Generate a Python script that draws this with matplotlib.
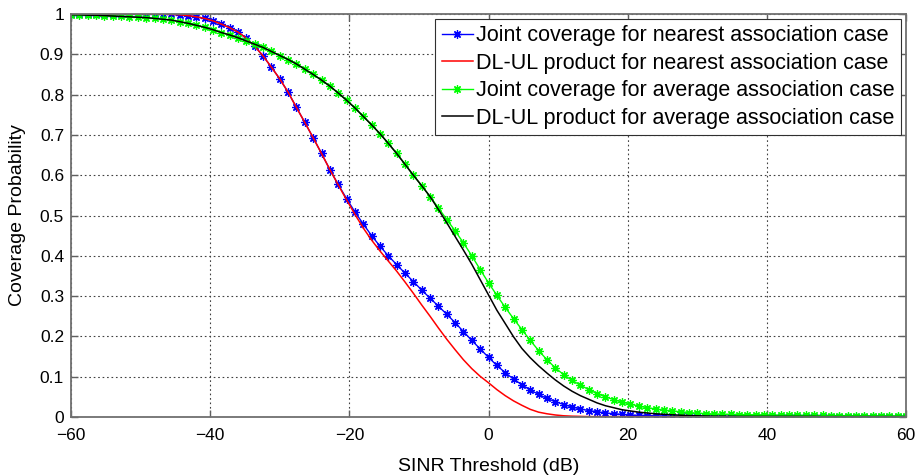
import numpy as np
import matplotlib
matplotlib.use("Agg")
import matplotlib.pyplot as plt

plt.rcParams['font.family'] = ['Liberation Sans', 'DejaVu Sans']

# SINR threshold grid (dB), one sample per marker
snr_db = np.linspace(-60, 60, 101)

joint_nearest = [
    1.000, 1.000, 1.000, 1.000, 1.000, 1.000, 1.000, 1.000, 1.000, 1.000,
    1.000, 0.9995, 0.999, 0.998, 0.996, 0.993, 0.989, 0.983, 0.975, 0.966,
    0.955, 0.940, 0.920, 0.896, 0.868, 0.839, 0.806, 0.768, 0.731, 0.693,
    0.654, 0.614, 0.577, 0.542, 0.509, 0.479, 0.450, 0.424, 0.400, 0.378,
    0.357, 0.336, 0.315, 0.295, 0.275, 0.255, 0.234, 0.212, 0.190, 0.169,
    0.148, 0.128, 0.110, 0.094, 0.080, 0.067, 0.056, 0.046, 0.038, 0.031,
    0.025, 0.020, 0.016, 0.013, 0.010, 0.008, 0.0065, 0.005, 0.004, 0.0035,
    0.003, 0.0025, 0.002, 0.002, 0.0015, 0.0015, 0.001, 0.001, 0.001, 0.001,
    0.001, 0.001, 0.001, 0.001, 0.001, 0.001, 0.0005, 0.0005, 0.0005, 0.0005,
    0.0005, 0.0005, 0.0005, 0.0005, 0.0005, 0.0005, 0.0005, 0.0005, 0.0005, 0.0005,
    0.0005]

product_nearest = [
    1.000, 1.000, 1.000, 1.000, 1.000, 1.000, 1.000, 1.000, 1.000, 1.000,
    1.000, 0.9995, 0.999, 0.998, 0.996, 0.993, 0.989, 0.983, 0.975, 0.966,
    0.955, 0.940, 0.920, 0.896, 0.868, 0.839, 0.806, 0.768, 0.731, 0.693,
    0.654, 0.614, 0.576, 0.539, 0.503, 0.469, 0.439, 0.412, 0.387, 0.362,
    0.335, 0.307, 0.278, 0.250, 0.221, 0.193, 0.167, 0.142, 0.120, 0.101,
    0.085, 0.068, 0.053, 0.040, 0.029, 0.019, 0.012, 0.008, 0.005, 0.003,
    0.002, 0.0015, 0.001, 0.0008, 0.0008, 0.0008, 0.0008, 0.0008, 0.0008, 0.0008,
    0.0008, 0.0005, 0.0005, 0.0005, 0.0005, 0.0005, 0.0005, 0.0005, 0.0005, 0.0005,
    0.0005, 0.0005, 0.0005, 0.0005, 0.0005, 0.0005, 0.0005, 0.0005, 0.0005, 0.0005,
    0.0005, 0.0005, 0.0005, 0.0005, 0.0005, 0.0005, 0.0005, 0.0005, 0.0005, 0.0005,
    0.0005]

joint_average = [
    0.998, 0.998, 0.997, 0.997, 0.996, 0.995, 0.994, 0.993, 0.992, 0.991,
    0.989, 0.987, 0.985, 0.981, 0.977, 0.972, 0.967, 0.961, 0.954, 0.948,
    0.941, 0.933, 0.925, 0.917, 0.907, 0.897, 0.887, 0.876, 0.863, 0.850,
    0.836, 0.821, 0.804, 0.786, 0.767, 0.746, 0.725, 0.703, 0.679, 0.654,
    0.627, 0.600, 0.574, 0.547, 0.519, 0.490, 0.462, 0.432, 0.400, 0.366,
    0.333, 0.302, 0.272, 0.244, 0.217, 0.190, 0.165, 0.142, 0.122, 0.105,
    0.091, 0.079, 0.068, 0.058, 0.050, 0.043, 0.037, 0.032, 0.027, 0.023,
    0.020, 0.017, 0.015, 0.013, 0.011, 0.0095, 0.0085, 0.0075, 0.007, 0.0065,
    0.006, 0.0058, 0.0055, 0.0052, 0.005, 0.0048, 0.0046, 0.0044, 0.0042, 0.004,
    0.0038, 0.0036, 0.0035, 0.0034, 0.0032, 0.0031, 0.003, 0.0029, 0.0028, 0.0027,
    0.0026]

product_average = [
    0.998, 0.998, 0.997, 0.997, 0.996, 0.995, 0.994, 0.993, 0.992, 0.991,
    0.989, 0.987, 0.985, 0.981, 0.977, 0.972, 0.967, 0.961, 0.954, 0.948,
    0.941, 0.933, 0.925, 0.917, 0.907, 0.897, 0.887, 0.876, 0.863, 0.850,
    0.836, 0.821, 0.804, 0.786, 0.767, 0.746, 0.725, 0.703, 0.679, 0.654,
    0.627, 0.600, 0.574, 0.547, 0.515, 0.482, 0.448, 0.414, 0.379, 0.341,
    0.303, 0.265, 0.232, 0.199, 0.170, 0.147, 0.127, 0.109, 0.092, 0.077,
    0.064, 0.053, 0.044, 0.035, 0.028, 0.023, 0.018, 0.015, 0.012, 0.010,
    0.008, 0.0065, 0.0055, 0.0045, 0.0035, 0.003, 0.0025, 0.002, 0.002, 0.0018,
    0.0015, 0.0015, 0.0015, 0.0015, 0.0015, 0.0015, 0.0015, 0.0015, 0.0015, 0.0015,
    0.001, 0.001, 0.001, 0.001, 0.001, 0.001, 0.001, 0.001, 0.001, 0.001,
    0.001]

labels = ["Joint coverage for nearest association case",
          "DL-UL product for nearest association case",
          "Joint coverage for average association case",
          "DL-UL product for average association case"]

fig = plt.figure(figsize=(9.21, 4.75), dpi=100)
ax = fig.add_axes([71/921, 58/475, 835/921, 403/475])

# matlab-style asterisk marker
star = (8, 2, 0)
ax.plot(snr_db, joint_nearest, color=(0, 0, 1), lw=1.0, marker=star,
        ms=6, mew=0.9, label=labels[0])
ax.plot(snr_db, product_nearest, color=(1, 0, 0), lw=1.1, label=labels[1])
ax.plot(snr_db, joint_average, color=(0, 1, 0), lw=1.0, marker=star,
        ms=6, mew=0.9, label=labels[2])
ax.plot(snr_db, product_average, color='black', lw=1.1, label=labels[3])

ax.set_xlim(-60, 60)
ax.set_ylim(0, 1)
ax.set_xticks(np.arange(-60, 61, 20))
ax.set_yticks(np.arange(0, 1.01, 0.1))
ax.set_yticklabels(["0", "0.1", "0.2", "0.3", "0.4", "0.5", "0.6", "0.7", "0.8", "0.9", "1"])
ax.grid(True, color='#404040', linestyle=(0, (1.5, 2.5)), linewidth=0.8)
ax.tick_params(direction='in', top=True, right=True, length=5, width=1,
               color='#606060', labelsize=12.5)
ax.tick_params(axis='x', pad=8)
ax.tick_params(axis='y', pad=5)
for s in ax.spines.values():
    s.set_color('#707070')
    s.set_linewidth(1.3)

ax.set_xlabel("SINR Threshold (dB)", fontsize=14, labelpad=11)
ax.set_ylabel("Coverage Probability", fontsize=14, labelpad=10)

leg = ax.legend(loc='upper right', fontsize=15.5, fancybox=False, framealpha=1,
                edgecolor='#303030', borderaxespad=0.22, borderpad=0.3,
                labelspacing=0.3, handlelength=1.45, handletextpad=0.15)
leg.get_frame().set_linewidth(0.8)

fig.savefig("out.png", dpi=100)
